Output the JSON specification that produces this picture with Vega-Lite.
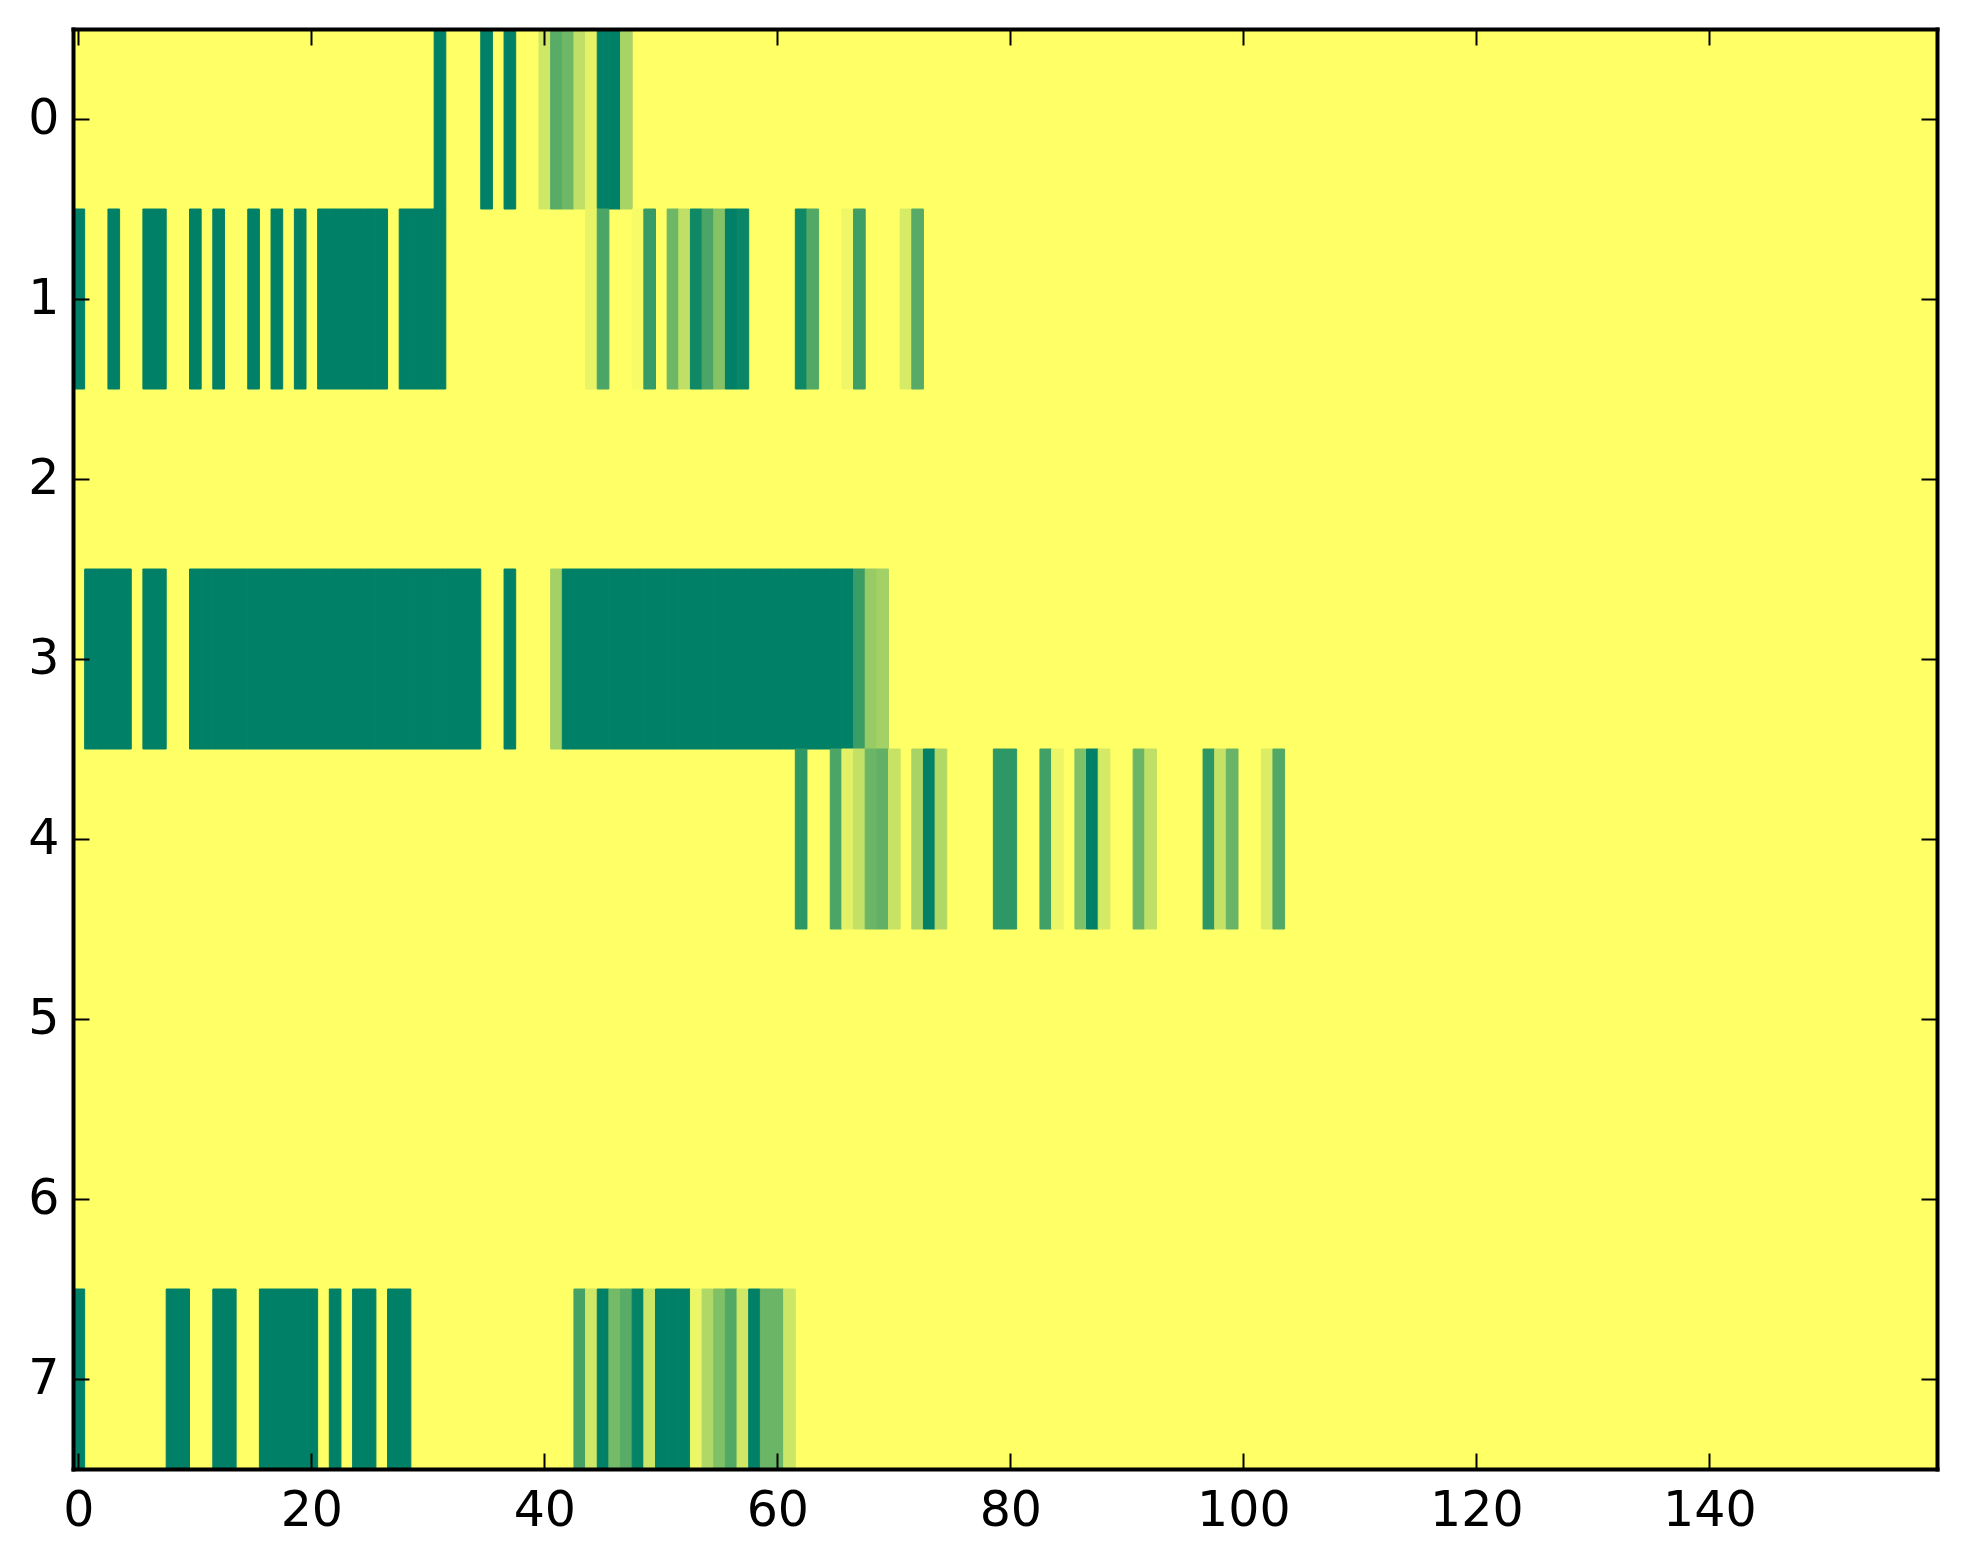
{
  "$schema": "https://vega.github.io/schema/vega-lite/v6.json",
  "width": 1864,
  "height": 1440,
  "autosize": {"type": "none"},
  "padding": {"left": 73, "top": 29, "right": 26, "bottom": 95},
  "background": "white",
  "config": {"view": {"fill": "#ffff66", "stroke": null}, "font": "DejaVu Sans"},
  "data": {"values": [
    {"r":0,"c":31,"v":1},{"r":0,"c":35,"v":1},{"r":0,"c":37,"v":1},{"r":0,"c":40,"v":0.19},{"r":0,"c":41,"v":0.65},{"r":0,"c":42,"v":0.57},{"r":0,"c":43,"v":0.25},{"r":0,"c":44,"v":0.10},{"r":0,"c":45,"v":1},{"r":0,"c":46,"v":1},{"r":0,"c":47,"v":0.34},
    {"r":1,"c":0,"v":1},{"r":1,"c":3,"v":1},{"r":1,"c":6,"v":1},{"r":1,"c":7,"v":1},{"r":1,"c":10,"v":1},{"r":1,"c":12,"v":1},{"r":1,"c":15,"v":1},{"r":1,"c":17,"v":1},{"r":1,"c":19,"v":1},{"r":1,"c":21,"v":1},{"r":1,"c":22,"v":1},{"r":1,"c":23,"v":1},{"r":1,"c":24,"v":1},{"r":1,"c":25,"v":1},{"r":1,"c":26,"v":1},{"r":1,"c":28,"v":1},{"r":1,"c":29,"v":1},{"r":1,"c":30,"v":1},{"r":1,"c":31,"v":1},
    {"r":1,"c":44,"v":0.09},{"r":1,"c":45,"v":0.71},{"r":1,"c":48,"v":0.03},{"r":1,"c":49,"v":0.79},{"r":1,"c":51,"v":0.57},{"r":1,"c":52,"v":0.25},{"r":1,"c":53,"v":0.94},{"r":1,"c":54,"v":0.71},{"r":1,"c":55,"v":0.48},{"r":1,"c":56,"v":1},{"r":1,"c":57,"v":0.96},{"r":1,"c":62,"v":0.94},{"r":1,"c":63,"v":0.68},{"r":1,"c":66,"v":0.06},{"r":1,"c":67,"v":0.76},{"r":1,"c":71,"v":0.16},{"r":1,"c":72,"v":0.66},
    {"r":3,"c":1,"v":1},{"r":3,"c":2,"v":1},{"r":3,"c":3,"v":1},{"r":3,"c":4,"v":1},{"r":3,"c":6,"v":1},{"r":3,"c":7,"v":1},
    {"r":3,"c":10,"v":1},{"r":3,"c":11,"v":1},{"r":3,"c":12,"v":1},{"r":3,"c":13,"v":1},{"r":3,"c":14,"v":1},{"r":3,"c":15,"v":1},{"r":3,"c":16,"v":1},{"r":3,"c":17,"v":1},{"r":3,"c":18,"v":1},{"r":3,"c":19,"v":1},{"r":3,"c":20,"v":1},{"r":3,"c":21,"v":1},{"r":3,"c":22,"v":1},{"r":3,"c":23,"v":1},{"r":3,"c":24,"v":1},{"r":3,"c":25,"v":1},{"r":3,"c":26,"v":1},{"r":3,"c":27,"v":1},{"r":3,"c":28,"v":1},{"r":3,"c":29,"v":1},{"r":3,"c":30,"v":1},{"r":3,"c":31,"v":1},{"r":3,"c":32,"v":1},{"r":3,"c":33,"v":1},{"r":3,"c":34,"v":1},
    {"r":3,"c":37,"v":1},{"r":3,"c":41,"v":0.36},
    {"r":3,"c":42,"v":1},{"r":3,"c":43,"v":1},{"r":3,"c":44,"v":1},{"r":3,"c":45,"v":1},{"r":3,"c":46,"v":1},{"r":3,"c":47,"v":1},{"r":3,"c":48,"v":1},{"r":3,"c":49,"v":1},{"r":3,"c":50,"v":1},{"r":3,"c":51,"v":1},{"r":3,"c":52,"v":1},{"r":3,"c":53,"v":1},{"r":3,"c":54,"v":1},{"r":3,"c":55,"v":1},{"r":3,"c":56,"v":1},{"r":3,"c":57,"v":1},{"r":3,"c":58,"v":1},{"r":3,"c":59,"v":1},{"r":3,"c":60,"v":1},{"r":3,"c":61,"v":1},{"r":3,"c":62,"v":1},{"r":3,"c":63,"v":1},{"r":3,"c":64,"v":1},{"r":3,"c":65,"v":1},{"r":3,"c":66,"v":1},
    {"r":3,"c":67,"v":0.77},{"r":3,"c":68,"v":0.41},{"r":3,"c":69,"v":0.36},
    {"r":4,"c":62,"v":0.82},{"r":4,"c":65,"v":0.71},{"r":4,"c":66,"v":0.11},{"r":4,"c":67,"v":0.24},{"r":4,"c":68,"v":0.58},{"r":4,"c":69,"v":0.62},{"r":4,"c":70,"v":0.22},{"r":4,"c":72,"v":0.34},{"r":4,"c":73,"v":1},{"r":4,"c":74,"v":0.31},{"r":4,"c":79,"v":0.82},{"r":4,"c":80,"v":0.82},{"r":4,"c":83,"v":0.75},{"r":4,"c":84,"v":0.08},{"r":4,"c":86,"v":0.5},{"r":4,"c":87,"v":1},{"r":4,"c":88,"v":0.17},{"r":4,"c":91,"v":0.58},{"r":4,"c":92,"v":0.25},{"r":4,"c":97,"v":0.82},{"r":4,"c":98,"v":0.23},{"r":4,"c":99,"v":0.59},{"r":4,"c":102,"v":0.14},{"r":4,"c":103,"v":0.68},
    {"r":7,"c":0,"v":1},{"r":7,"c":8,"v":1},{"r":7,"c":9,"v":1},{"r":7,"c":12,"v":1},{"r":7,"c":13,"v":1},{"r":7,"c":16,"v":1},{"r":7,"c":17,"v":1},{"r":7,"c":18,"v":1},{"r":7,"c":19,"v":1},{"r":7,"c":20,"v":1},{"r":7,"c":22,"v":1},{"r":7,"c":24,"v":1},{"r":7,"c":25,"v":1},{"r":7,"c":27,"v":1},{"r":7,"c":28,"v":1},
    {"r":7,"c":43,"v":0.73},{"r":7,"c":44,"v":0.19},{"r":7,"c":45,"v":1},{"r":7,"c":46,"v":0.54},{"r":7,"c":47,"v":0.65},{"r":7,"c":48,"v":0.98},{"r":7,"c":49,"v":0.2},{"r":7,"c":50,"v":1},{"r":7,"c":51,"v":1},{"r":7,"c":52,"v":1},{"r":7,"c":53,"v":0.07},{"r":7,"c":54,"v":0.31},{"r":7,"c":55,"v":0.5},{"r":7,"c":56,"v":0.68},{"r":7,"c":57,"v":0.18},{"r":7,"c":58,"v":1},{"r":7,"c":59,"v":0.58},{"r":7,"c":60,"v":0.58},{"r":7,"c":61,"v":0.2}
  ]},
  "layer": [
    {
      "mark": {"type": "rect", "strokeWidth": 1},
      "encoding": {
        "x": {"field": "c", "type": "ordinal",
          "scale": {"domain": [0,1,2,3,4,5,6,7,8,9,10,11,12,13,14,15,16,17,18,19,20,21,22,23,24,25,26,27,28,29,30,31,32,33,34,35,36,37,38,39,40,41,42,43,44,45,46,47,48,49,50,51,52,53,54,55,56,57,58,59,60,61,62,63,64,65,66,67,68,69,70,71,72,73,74,75,76,77,78,79,80,81,82,83,84,85,86,87,88,89,90,91,92,93,94,95,96,97,98,99,100,101,102,103,104,105,106,107,108,109,110,111,112,113,114,115,116,117,118,119,120,121,122,123,124,125,126,127,128,129,130,131,132,133,134,135,136,137,138,139,140,141,142,143,144,145,146,147,148,149,150,151,152,153,154,155,156,157,158,159], "paddingInner": 0, "paddingOuter": 0},
          "axis": {"orient": "bottom", "values": [0,20,40,60,80,100,120,140], "labelAngle": 0, "title": null, "grid": false,
            "tickSize": -16, "tickWidth": 2, "tickColor": "black", "labelPadding": 33, "labelFontSize": 49, "labelFont": "DejaVu Sans", "labelColor": "black", "labelOverlap": false,
            "domainWidth": 4, "domainColor": "black", "domainCap": "square", "zindex": 1}},
        "y": {"field": "r", "type": "ordinal",
          "scale": {"domain": [0,1,2,3,4,5,6,7], "paddingInner": 0, "paddingOuter": 0},
          "axis": {"orient": "left", "values": [0,1,2,3,4,5,6,7], "title": null, "grid": false,
            "tickSize": -16, "tickWidth": 2, "tickColor": "black", "labelPadding": 30, "labelFontSize": 49, "labelFont": "DejaVu Sans", "labelColor": "black", "labelOverlap": false,
            "domainWidth": 4, "domainColor": "black", "domainCap": "square", "zindex": 1}},
        "color": {"field": "v", "type": "quantitative", "scale": {"domain": [0, 1], "range": ["#ffff66", "#008066"], "interpolate": "rgb"}, "legend": null},
        "stroke": {"field": "v", "type": "quantitative", "scale": {"domain": [0, 1], "range": ["#ffff66", "#008066"], "interpolate": "rgb"}, "legend": null}
      }
    },
    {
      "mark": {"type": "rect", "opacity": 0},
      "encoding": {
        "x": {"field": "c", "type": "ordinal",
          "axis": {"orient": "top", "values": [0,20,40,60,80,100,120,140], "labels": false, "title": null, "grid": false,
            "tickSize": -16, "tickWidth": 2, "tickColor": "black",
            "domainWidth": 4, "domainColor": "black", "domainCap": "square", "zindex": 1}},
        "y": {"field": "r", "type": "ordinal",
          "axis": {"orient": "right", "values": [0,1,2,3,4,5,6,7], "labels": false, "title": null, "grid": false,
            "tickSize": -16, "tickWidth": 2, "tickColor": "black",
            "domainWidth": 4, "domainColor": "black", "domainCap": "square", "zindex": 1}}
      }
    }
  ],
  "resolve": {"axis": {"x": "independent", "y": "independent"}}
}
